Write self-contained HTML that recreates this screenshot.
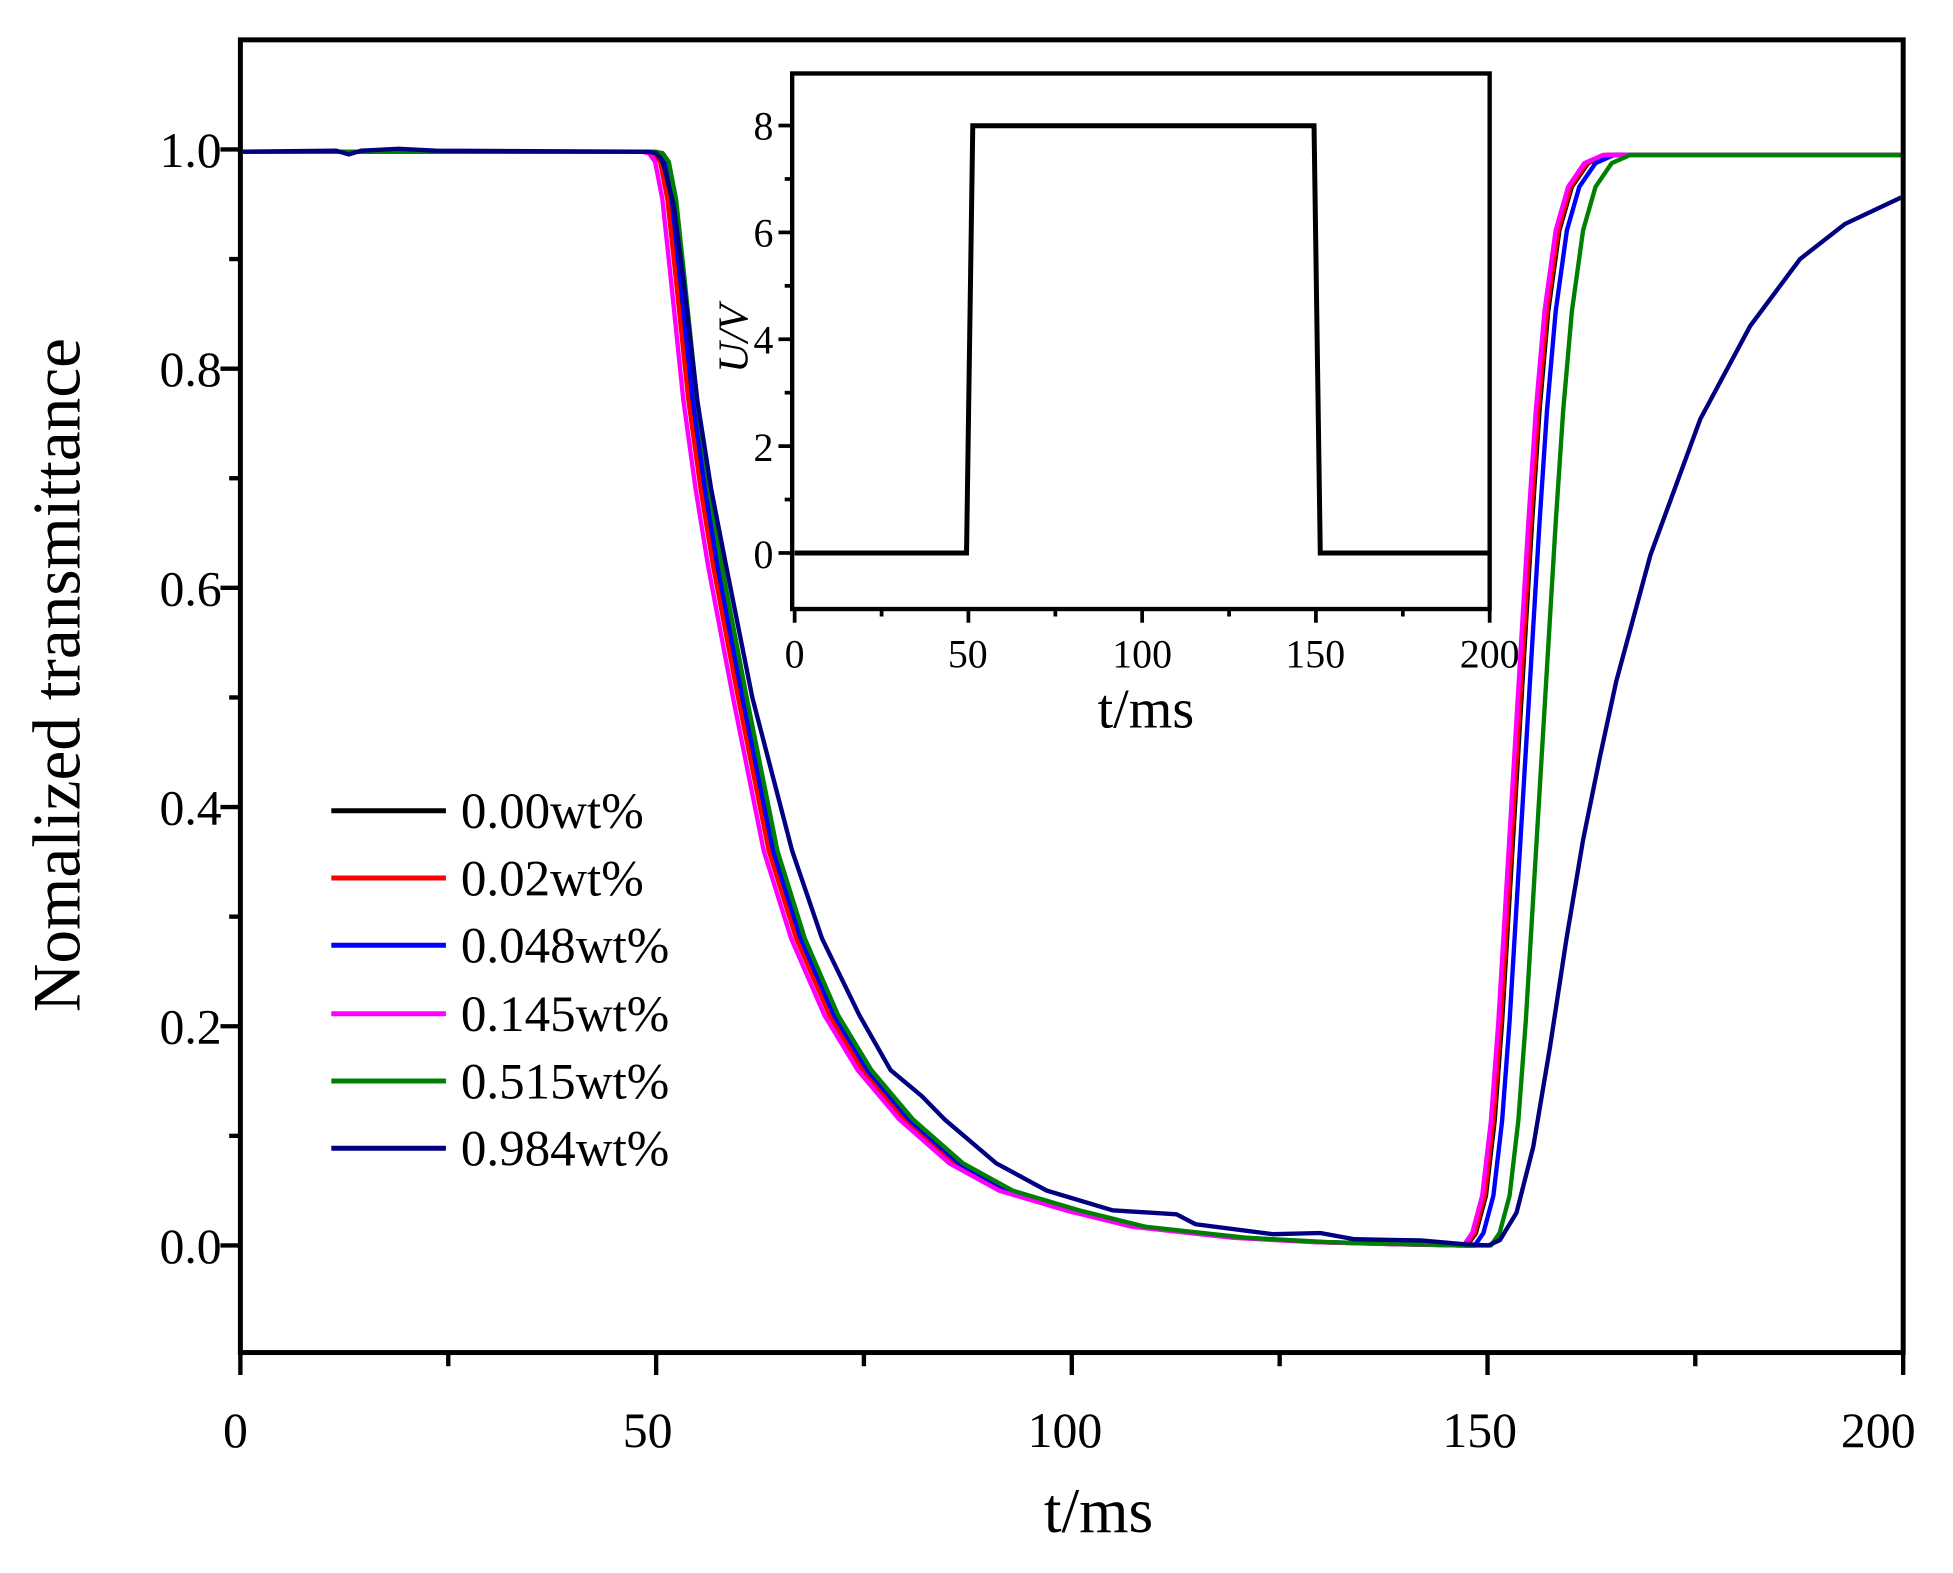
<!DOCTYPE html>
<html><head><meta charset="utf-8"><style>html,body{margin:0;padding:0;background:#fff}svg{display:block}</style></head>
<body>
<svg width="1953" height="1573" viewBox="0 0 1568 1263" preserveAspectRatio="none" xmlns="http://www.w3.org/2000/svg" font-family="Liberation Serif, serif">
<defs>
<clipPath id="cp"><rect x="195" y="34" width="1331" height="1050"/></clipPath>
<polyline id="D" points="193,121.8 520,121.8 526,123 531,130 536.8,160 543.4,222 553.5,320 563.5,392.8 573.5,454.4 593.5,560 618.2,683.2 640.2,753.6 666.9,815.2 693.6,859.2 727,898.8 767.1,934 807.1,956 860.5,971.8 913.9,985 994,993.8 1060.8,997.4 1127.5,999.1 1178,1000 1185,1000"/>
<polyline id="R" points="1170,1000 1178,1000 1185,990 1193,960 1200,900 1206,820 1212,720 1218,620 1224,520 1230,420 1236,330 1243,250 1252,185 1262,150 1275,131 1290,124.4 1560,124.4"/>
</defs>
<rect width="1568" height="1263" fill="#fff"/>
<g clip-path="url(#cp)" fill="none" stroke-width="3.5" stroke-linejoin="round">
<g stroke="#000"><use href="#D"/><use href="#R"/></g>
<g stroke="#ff0000"><use href="#D" transform="translate(-1,0)"/><use href="#R" transform="translate(-1,0)"/></g>
<g stroke="#0000ff"><use href="#D" transform="translate(2.7,0)"/><use href="#R" transform="translate(6,0)"/></g>
<g stroke="#ff00ff"><use href="#D" transform="translate(-5,0)"/><use href="#R" transform="translate(-3,0)"/></g>
<g stroke="#008000"><use href="#D" transform="translate(6,0)"/><use href="#R" transform="translate(19,0)"/></g>
<polyline stroke="#000080" points="193,121.8 270,121 280,124 290,121 320,119.5 350,121 520,121.8 527,123 532.1,130 540.8,164 548.8,225.6 560,322.4 571,392.8 583,454.4 604,560 636,683.2 660,753.6 690,815.2 715,859.2 740,880 758.4,898.8 799.8,934 840.5,956 893.2,971.8 944.6,975 960,983 1022,991 1060,990 1087.5,995 1140.9,996 1175,999 1195,1000 1204.3,995.6 1217.6,973.6 1231,920.8 1244.3,841.6 1257.7,753.6 1271,674.4 1284.4,608.4 1297.7,546.8 1325.1,445.6 1365.1,336.5 1405.2,261.7 1445.2,208 1481.3,179.8 1528,157.8"/>
</g>
<!-- main axes -->
<rect x="193" y="32" width="1335" height="1054" fill="none" stroke="#000" stroke-width="4"/>
<g stroke="#000" stroke-width="3.5">
<line x1="193" y1="1086" x2="193" y2="1104"/><line x1="359.9" y1="1086" x2="359.9" y2="1097"/>
<line x1="526.8" y1="1086" x2="526.8" y2="1104"/><line x1="693.6" y1="1086" x2="693.6" y2="1097"/>
<line x1="860.5" y1="1086" x2="860.5" y2="1104"/><line x1="1027.4" y1="1086" x2="1027.4" y2="1097"/>
<line x1="1194.3" y1="1086" x2="1194.3" y2="1104"/><line x1="1361.1" y1="1086" x2="1361.1" y2="1097"/>
<line x1="1528" y1="1086" x2="1528" y2="1104"/>
<line x1="193" y1="1000" x2="177" y2="1000"/><line x1="193" y1="912" x2="184" y2="912"/>
<line x1="193" y1="824" x2="177" y2="824"/><line x1="193" y1="736" x2="184" y2="736"/>
<line x1="193" y1="648" x2="177" y2="648"/><line x1="193" y1="560" x2="184" y2="560"/>
<line x1="193" y1="472" x2="177" y2="472"/><line x1="193" y1="384" x2="184" y2="384"/>
<line x1="193" y1="296" x2="177" y2="296"/><line x1="193" y1="208" x2="184" y2="208"/>
<line x1="193" y1="120" x2="177" y2="120"/>
</g>
<g font-size="40" fill="#000" text-anchor="end">
<text x="178" y="134">1.0</text><text x="178" y="310">0.8</text><text x="178" y="486">0.6</text>
<text x="178" y="662">0.4</text><text x="178" y="838">0.2</text><text x="178" y="1014">0.0</text>
</g>
<g font-size="40" fill="#000" text-anchor="middle">
<text x="189" y="1162">0</text><text x="520" y="1162">50</text><text x="855" y="1162">100</text>
<text x="1188" y="1162">150</text><text x="1508" y="1162">200</text>
</g>
<text x="882" y="1230" font-size="51" text-anchor="middle">t/ms</text>
<text transform="translate(64,542) rotate(-90)" font-size="54" text-anchor="middle">Nomalized transmittance</text>
<!-- legend -->
<g stroke-width="4">
<line x1="266" y1="651" x2="358" y2="651" stroke="#000"/>
<line x1="266" y1="705" x2="358" y2="705" stroke="#ff0000"/>
<line x1="266" y1="759" x2="358" y2="759" stroke="#0000ff"/>
<line x1="266" y1="814" x2="358" y2="814" stroke="#ff00ff"/>
<line x1="266" y1="868" x2="358" y2="868" stroke="#008000"/>
<line x1="266" y1="922" x2="358" y2="922" stroke="#000080"/>
</g>
<g font-size="41" fill="#000">
<text x="370" y="665">0.00wt%</text><text x="370" y="719">0.02wt%</text>
<text x="370" y="773">0.048wt%</text><text x="370" y="828">0.145wt%</text>
<text x="370" y="882">0.515wt%</text><text x="370" y="936">0.984wt%</text>
</g>
<!-- inset -->
<rect x="636" y="59" width="560" height="430" fill="#fff" stroke="#000" stroke-width="3.5"/>
<g stroke="#000" stroke-width="3">
<line x1="638" y1="489" x2="638" y2="500"/><line x1="707.8" y1="489" x2="707.8" y2="495"/>
<line x1="777.5" y1="489" x2="777.5" y2="500"/><line x1="847.3" y1="489" x2="847.3" y2="495"/>
<line x1="917" y1="489" x2="917" y2="500"/><line x1="986.8" y1="489" x2="986.8" y2="495"/>
<line x1="1056.5" y1="489" x2="1056.5" y2="500"/><line x1="1126.3" y1="489" x2="1126.3" y2="495"/>
<line x1="1196" y1="489" x2="1196" y2="500"/>
<line x1="636" y1="444" x2="625" y2="444"/><line x1="636" y1="401.1" x2="630" y2="401.1"/>
<line x1="636" y1="358.2" x2="625" y2="358.2"/><line x1="636" y1="315.3" x2="630" y2="315.3"/>
<line x1="636" y1="272.4" x2="625" y2="272.4"/><line x1="636" y1="229.5" x2="630" y2="229.5"/>
<line x1="636" y1="186.6" x2="625" y2="186.6"/><line x1="636" y1="143.7" x2="630" y2="143.7"/>
<line x1="636" y1="100.8" x2="625" y2="100.8"/>
</g>
<polyline fill="none" stroke="#000" stroke-width="4" points="638,444 776,444 781,101 1055,101 1060,444 1196,444"/>
<g font-size="32" fill="#000" text-anchor="end">
<text x="621" y="112">8</text><text x="621" y="198">6</text><text x="621" y="284">4</text>
<text x="621" y="370">2</text><text x="621" y="456">0</text>
</g>
<g font-size="32" fill="#000" text-anchor="middle">
<text x="638" y="536">0</text><text x="777" y="536">50</text><text x="917" y="536">100</text>
<text x="1056" y="536">150</text><text x="1196" y="536">200</text>
</g>
<text x="920" y="584" font-size="45" text-anchor="middle">t/ms</text>
<text transform="translate(600,272) rotate(-90)" font-size="34" font-style="italic" text-anchor="middle">U/V</text>
</svg>
</body></html>
